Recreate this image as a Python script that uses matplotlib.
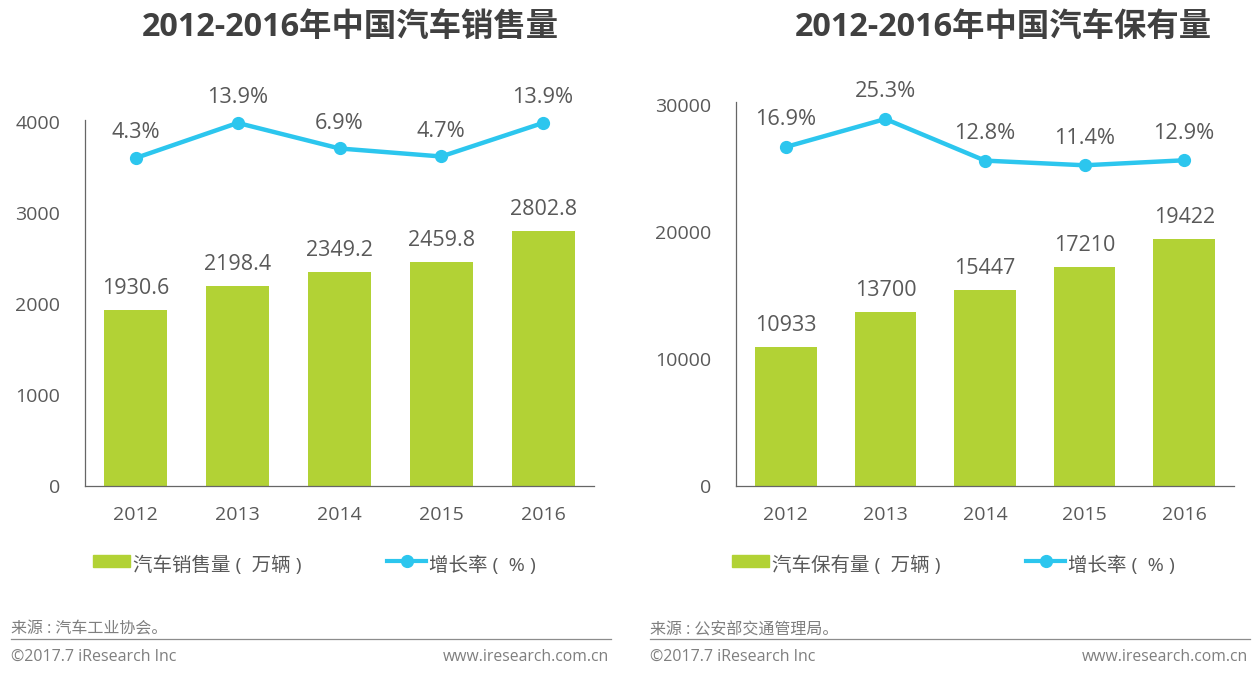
import matplotlib
matplotlib.use('Agg')
import matplotlib.pyplot as plt
from matplotlib.lines import Line2D

plt.rcParams['font.family'] = ['Open Sans', 'Noto Sans CJK SC', 'DejaVu Sans']

W, H = 1254, 673

years = ['2012', '2013', '2014', '2015', '2016']
sales = [1930.6, 2198.4, 2349.2, 2459.8, 2802.8]
sales_growth = [4.3, 13.9, 6.9, 4.7, 13.9]
stock = [10933, 13700, 15447, 17210, 19422]
stock_growth = [16.9, 25.3, 12.8, 11.4, 12.9]
sales_ticks = [0, 1000, 2000, 3000, 4000]
stock_ticks = [0, 10000, 20000, 30000]

GREEN = '#b2d235'
BLUE = '#2cc6ee'
GREY = '#595959'

fig = plt.figure(figsize=(W / 100, H / 100), dpi=100)


def add_panel(box, ymax, ticks, bars, growth, growth_lim, growth_pad, title, title_x,
              bar_name, source, dx):
    left, right, top, bottom = box
    ax = fig.add_axes([left / W, 1 - bottom / H, (right - left) / W, (bottom - top) / H])
    x = range(len(years))
    ax.bar(x, bars, width=0.62, color=GREEN)
    ax.set_xlim(-0.5, 4.5)
    ax.set_ylim(0, ymax)
    ax.set_xticks(list(x))
    ax.set_xticklabels(years)
    ax.set_yticks(ticks)
    ax.tick_params(length=0, labelsize=14, labelcolor=GREY)
    ax.tick_params(axis='x', pad=14.5)
    ax.tick_params(axis='y', pad=18)
    for s in ['top', 'right']:
        ax.spines[s].set_visible(False)
    for s in ['left', 'bottom']:
        ax.spines[s].set_color('#666666')
        ax.spines[s].set_linewidth(0.9)
    for i, v in enumerate(bars):
        ax.annotate(str(v), (i, v), xytext=(0, 8), textcoords='offset points',
                    ha='center', va='bottom', fontsize=15.5, color=GREY)

    # growth rate sits on its own hidden scale
    ax2 = ax.twinx()
    ax2.plot(x, growth, color=BLUE, lw=3.2, marker='o', ms=8.5, clip_on=False)
    ax2.set_ylim(*growth_lim)
    ax2.axis('off')
    for i, g in enumerate(growth):
        ax2.annotate(f'{g}%', (i, g), xytext=(0, growth_pad), textcoords='offset points',
                     ha='center', va='bottom', fontsize=15.7, color=GREY)

    fig.text(title_x / W, 1 - 27.5 / H, title, fontsize=23.3, fontweight='bold',
             color='#404040', ha='center', va='center')

    # legend drawn by hand in pixel positions
    fig.patches.append(plt.Rectangle(((93 + dx) / W, 1 - 567 / H), 37 / W, 12 / H,
                                     transform=fig.transFigure, color=GREEN))
    fig.text((133 + dx) / W, 1 - 565 / H, bar_name, fontsize=14, color=GREY, va='center')
    fig.add_artist(Line2D([(387 + dx) / W, (407 + dx) / W, (426 + dx) / W], [1 - 561 / H] * 3,
                          color=BLUE, lw=3, marker='o', ms=8.5, markevery=[1],
                          transform=fig.transFigure))
    fig.text((429 + dx) / W, 1 - 565 / H, '增长率 (  % )', fontsize=14, color=GREY, va='center')

    # footer
    fig.text((11 + dx) / W, 1 - 630 / H, source, fontsize=11.5, color='#7f7f7f', va='center')
    fig.add_artist(Line2D([(11 + dx) / W, (611 + dx) / W], [1 - 639 / H, 1 - 639 / H],
                          color='#8c8c8c', lw=0.9, transform=fig.transFigure))
    fig.text((11 + dx) / W, 1 - 657 / H, '©2017.7 iResearch Inc', fontsize=11.5,
             color='#7f7f7f', va='center')
    fig.text((609 + dx) / W, 1 - 657 / H, 'www.iresearch.com.cn', fontsize=11.3,
             color='#7f7f7f', va='center', ha='right')


add_panel((85, 594, 120, 486), 4022, sales_ticks, sales, sales_growth, (-85.6, 14.7), 10.5,
          '2012-2016年中国汽车销售量', 350, '汽车销售量 (  万辆 )', '来源 : 汽车工业协会。', 0)
add_panel((736, 1234, 102, 486), 30236, stock_ticks, stock, stock_growth, (-84.9, 30.4), 12,
          '2012-2016年中国汽车保有量', 1003, '汽车保有量 (  万辆 )', '来源 : 公安部交通管理局。', 639)

fig.savefig('out.png', dpi=100)
